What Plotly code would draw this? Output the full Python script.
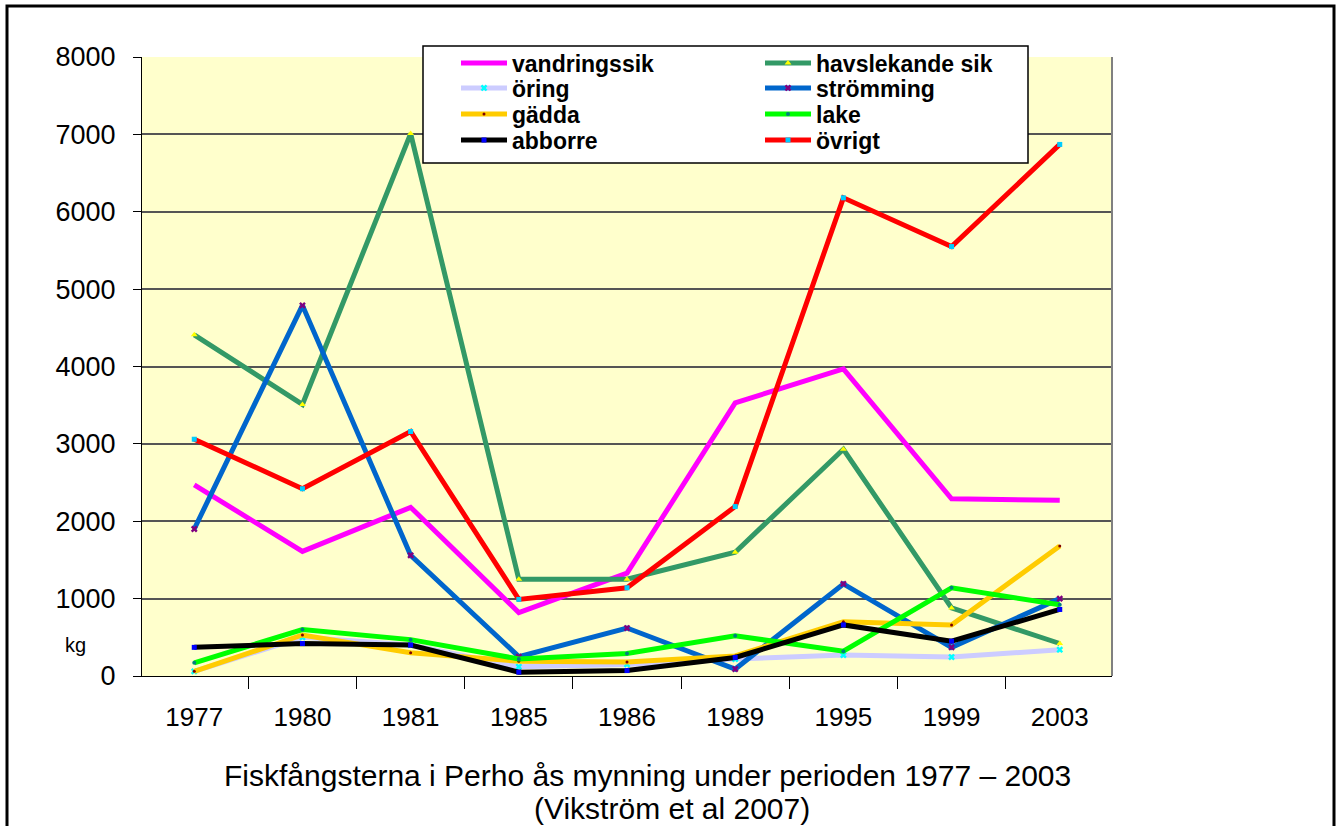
import plotly.graph_objects as go

years = ["1977", "1980", "1981", "1985", "1986", "1989", "1995", "1999", "2003"]

vandringssik    = [2470, 1610, 2180, 820, 1330, 3530, 3970, 2290, 2270]
havslekande_sik = [4410, 3510, 7010, 1250, 1250, 1600, 2930, 880, 420]
oring           = [60, 500, 400, 120, 150, 220, 270, 245, 340]
stromming       = [1900, 4790, 1560, 250, 620, 90, 1190, 370, 1000]
gadda           = [60, 530, 300, 190, 180, 260, 700, 660, 1680]
lake            = [170, 600, 470, 220, 290, 520, 320, 1140, 920]
abborre         = [370, 420, 400, 50, 70, 240, 660, 450, 860]
ovrigt          = [3060, 2420, 3160, 990, 1140, 2190, 6180, 5550, 6870]

FONT = "Liberation Sans, Arial, sans-serif"

series = [
    ("vandringssik", vandringssik, "#FF00FF", None, None, 0),
    ("havslekande sik", havslekande_sik, "#339966", "triangle-up", "#FFFF00", 6),
    ("öring", oring, "#CCCCFF", "x", "#00FFFF", 6),
    ("strömming", stromming, "#0066CC", "x", "#800080", 6),
    ("gädda", gadda, "#FFCC00", "circle", "#800000", 3),
    ("lake", lake, "#00FF00", "circle", "#008080", 4),
    ("abborre", abborre, "#000000", "square", "#0000FF", 5),
    ("övrigt", ovrigt, "#FF0000", "square", "#00CCFF", 5),
]

# legend layout: 2 columns x 4 rows, filled row by row
col_x = [456, 760]
row_y = [63, 88, 114, 140]

fig = go.Figure()
legends = {}
for i, (name, vals, col, sym, mcol, msz) in enumerate(series):
    lg = "legend" if i == 0 else f"legend{i + 1}"
    if sym is None:
        fig.add_trace(go.Scatter(x=years, y=vals, name=name, mode="lines",
                                 line=dict(color=col, width=5), legend=lg))
    else:
        fig.add_trace(go.Scatter(x=years, y=vals, name=name, mode="lines+markers",
                                 line=dict(color=col, width=5),
                                 marker=dict(symbol=sym, color=mcol, size=msz,
                                             line=dict(width=0)),
                                 legend=lg))
    r, c = divmod(i, 2)
    legends[lg] = dict(
        x=(col_x[c] - 142) / 970, y=(676 - row_y[r]) / 619,
        xanchor="left", yanchor="middle",
        font=dict(family=FONT, size=23, color="black", weight="bold"),
        bgcolor="rgba(0,0,0,0)", borderwidth=0, itemwidth=46,
    )

fig.update_layout(
    width=1336, height=826,
    margin=dict(l=142, r=224, t=57, b=150),
    paper_bgcolor="white",
    plot_bgcolor="#FFFFCC",
    font=dict(family=FONT, size=27, color="black"),
    showlegend=True,
    **legends,
    xaxis=dict(
        type="category", tickson="boundaries", ticks="outside", ticklen=12,
        tickcolor="black", tickwidth=1, showline=True, linecolor="black",
        linewidth=1, mirror=False, showgrid=False, ticklabelstandoff=18,
        tickfont=dict(family=FONT, size=26),
    ),
    yaxis=dict(
        range=[0, 8000], dtick=1000, ticks="outside", ticklen=8,
        tickcolor="black", showline=True, linecolor="black", linewidth=1,
        gridcolor="#555555", gridwidth=1.5, zeroline=False,
        tickfont=dict(family=FONT, size=27), ticklabelstandoff=12,
    ),
    shapes=[
        dict(type="rect", xref="paper", yref="paper",
             x0=(7 - 142) / 970, x1=(1334 - 142) / 970,
             y0=(676 - 900) / 619, y1=(676 - 6) / 619,
             line=dict(color="black", width=3), fillcolor="rgba(0,0,0,0)",
             layer="below"),
        dict(type="line", xref="paper", yref="paper", x0=1, x1=1, y0=0, y1=1,
             line=dict(color="#808080", width=2), layer="above"),
        dict(type="rect", xref="paper", yref="paper",
             x0=(423 - 142) / 970, x1=(1028 - 142) / 970,
             y0=(676 - 163) / 619, y1=(676 - 46) / 619,
             line=dict(color="black", width=1.5), fillcolor="white",
             layer="above"),
    ],
    annotations=[
        dict(text="kg", xref="paper", yref="paper", x=(75 - 142) / 970,
             y=(676 - 645) / 619, showarrow=False,
             font=dict(family=FONT, size=20), xanchor="center", yanchor="middle"),
        dict(text="Fiskfångsterna i Perho ås mynning under perioden 1977 – 2003",
             xref="paper", yref="paper", x=(647 - 142) / 970,
             y=(676 - 775) / 619, showarrow=False,
             font=dict(family=FONT, size=30), xanchor="center", yanchor="middle"),
        dict(text="(Vikström et al 2007)",
             xref="paper", yref="paper", x=(672 - 142) / 970,
             y=(676 - 808) / 619, showarrow=False,
             font=dict(family=FONT, size=30), xanchor="center", yanchor="middle"),
    ],
)

fig.write_html("out.html", config={"displayModeBar": False},
               post_script="document.body.style.margin='0';")
